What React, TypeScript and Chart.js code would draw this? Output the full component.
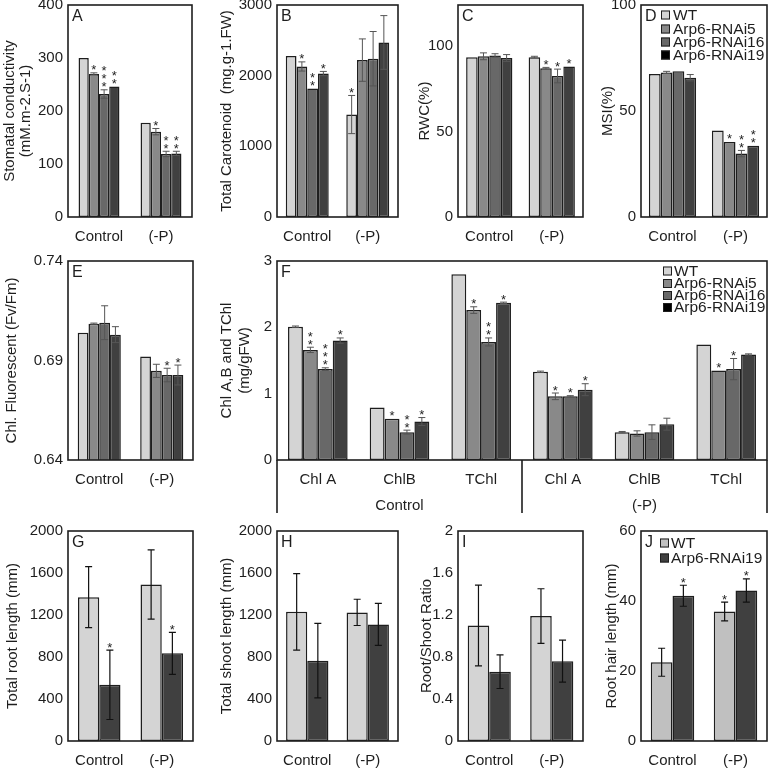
import React, { useEffect, useRef } from "react";
import { Chart, registerables } from "chart.js";
Chart.register(...registerables);

const FONT = '"Liberation Sans", Arial, Helvetica, sans-serif';
const INK = "#1e1e1e";

// ---------- shared categories / series ----------
const conditions = ["Control", "(-P)"];
const lines4 = ["WT", "Arp6-RNAi5", "Arp6-RNAi16", "Arp6-RNAi19"];
const lines2 = ["WT", "Arp6-RNAi19"];
const fill4 = ["#d4d4d4", "#898989", "#686868", "#404040"];
const key4 = ["#d4d4d4", "#898989", "#686868", "#000000"];
const fill2 = ["#d4d4d4", "#404040"];
const fillJ = ["#c0c0c0", "#404040"];

// ---------- A: stomatal conductivity ----------
const aMean = [[300, 178], [270, 161], [232, 119], [246, 120]];
const aErr = [[0, 0], [2, 6], [8, 5], [0, 4]];
const aStar = [[0, 0], [1, 1], [3, 2], [2, 2]];
const aTicks = [0, 100, 200, 300, 400];

// ---------- B: total carotenoid ----------
const bMean = [[2280, 1450], [2130, 2220], [1820, 2240], [2030, 2470]];
const bErr = [[0, 270], [65, 300], [0, 385], [30, 380]];
const bStar = [[0, 1], [1, 0], [2, 0], [1, 0]];
const bTicks = [0, 1000, 2000, 3000];

// ---------- C: RWC ----------
const cMean = [[93.5, 93.5], [94, 87], [94.5, 82.5], [93, 88]];
const cErr = [[0, 0.5], [2, 0.5], [1, 4], [2, 0]];
const cStar = [[0, 0], [0, 1], [0, 1], [0, 1]];
const cTicks = [0, 50, 100];

// ---------- D: MSI ----------
const dMean = [[67.5, 40.8], [68.2, 35.4], [68.7, 29.9], [65.7, 33.6]];
const dErr = [[0, 0], [0.5, 0], [0, 1.5], [1.5, 0]];
const dStar = [[0, 0], [0, 1], [0, 2], [0, 2]];
const dTicks = [0, 50, 100];

// ---------- E: Chl fluorescence ----------
const eMean = [[0.704, 0.692], [0.7085, 0.6848], [0.709, 0.6827], [0.703, 0.6827]];
const eErr = [[0, 0], [0.0003, 0.0033], [0.0085, 0.0034], [0.004, 0.005]];
const eStar = [[0, 0], [0, 0], [0, 1], [0, 1]];
const eTicks = [0.64, 0.69, 0.74];

// ---------- F: Chl A, B, TChl ----------
const fLabels = ["Chl A", "ChlB", "TChl", "Chl A", "ChlB", "TChl"];
const fGroups = ["Control", "(-P)"];
const fMean = [
  [2.01, 0.79, 2.8, 1.33, 0.42, 1.74],
  [1.66, 0.62, 2.26, 0.96, 0.4, 1.35],
  [1.37, 0.42, 1.78, 0.96, 0.42, 1.37],
  [1.8, 0.58, 2.37, 1.06, 0.54, 1.59],
];
const fErr = [
  [0.01, 0, 0, 0.01, 0.01, 0],
  [0.04, 0, 0.05, 0.05, 0.04, 0],
  [0.02, 0.03, 0.06, 0.01, 0.11, 0.16],
  [0.04, 0.06, 0.01, 0.09, 0.09, 0.01],
];
const fStar = [
  [0, 0, 0, 0, 0, 0],
  [2, 1, 1, 1, 0, 1],
  [3, 2, 2, 1, 0, 1],
  [1, 1, 1, 1, 0, 0],
];
const fTicks = [0, 1, 2, 3];

// ---------- G: total root length ----------
const gMean = [[1370, 1490], [535, 835]];
const gErr = [[290, 330], [330, 200]];
const gStar = [[0, 0], [1, 1]];
const ghTicks = [0, 400, 800, 1200, 1600, 2000];

// ---------- H: total shoot length ----------
const hMean = [[1230, 1225], [765, 1110]];
const hErr = [[365, 125], [355, 200]];
const hStar = [[0, 0], [0, 0]];

// ---------- I: root/shoot ratio ----------
const iMean = [[1.1, 1.19], [0.66, 0.76]];
const iErr = [[0.385, 0.26], [0.16, 0.2]];
const iStar = [[0, 0], [0, 0]];
const iTicks = [0, 0.4, 0.8, 1.2, 1.6, 2];

// ---------- J: root hair length ----------
const jMean = [[22.5, 37], [41.5, 43]];
const jErr = [[4, 2.7], [3, 3.3]];
const jStar = [[0, 1], [1, 1]];
const jTicks = [0, 20, 40, 60];

type Spec = {
  letter: string;
  plot: [number, number, number, number];
  canvasLeft: number;
  canvasBottom: number;
  labels: string[];
  names: string[];
  fills: string[];
  means: number[][];
  errs: number[][];
  stars: number[][];
  ticks: number[];
  yMax: number;
  yTitle: string[];
  yTitleX: number[];
  catPct: number;
  errColor: string;
  errWidth: number;
  legend?: { sx: number; tx: number; ys: number[]; fills: string[]; names: string[] };
  multi?: { groups: string[]; groupY: number; lineBottom: number };
};

const specs: Spec[] = [
  {
    letter: "A", plot: [68, 5, 192, 217], canvasLeft: 0, canvasBottom: 250,
    labels: conditions, names: lines4, fills: fill4, means: aMean, errs: aErr, stars: aStar,
    ticks: aTicks, yMax: 400, yTitle: ["Stomatal conductivity", "(mM.m-2.S-1)"], yTitleX: [10, 26],
    catPct: 0.66, errColor: "#555", errWidth: 1,
  },
  {
    letter: "B", plot: [277, 5, 398, 217], canvasLeft: 200, canvasBottom: 250,
    labels: conditions, names: lines4, fills: fill4, means: bMean, errs: bErr, stars: bStar,
    ticks: bTicks, yMax: 3000, yTitle: ["Total Carotenoid  (mg.g-1.FW)"], yTitleX: [227],
    catPct: 0.71, errColor: "#555", errWidth: 1,
  },
  {
    letter: "C", plot: [458, 5, 583, 217], canvasLeft: 400, canvasBottom: 250,
    labels: conditions, names: lines4, fills: fill4, means: cMean, errs: cErr, stars: cStar,
    ticks: cTicks, yMax: 124, yTitle: ["RWC(%)"], yTitleX: [425],
    catPct: 0.74, errColor: "#555", errWidth: 1,
  },
  {
    letter: "D", plot: [641, 5, 767, 217], canvasLeft: 585, canvasBottom: 250,
    labels: conditions, names: lines4, fills: fill4, means: dMean, errs: dErr, stars: dStar,
    ticks: dTicks, yMax: 100, yTitle: ["MSI(%)"], yTitleX: [608],
    catPct: 0.75, errColor: "#555", errWidth: 1,
    legend: { sx: 661, tx: 673, ys: [15, 29, 42, 55], fills: key4, names: lines4 },
  },
  {
    letter: "E", plot: [68, 261, 193, 460], canvasLeft: 0, canvasBottom: 500,
    labels: conditions, names: lines4, fills: fill4, means: eMean, errs: eErr, stars: eStar,
    ticks: eTicks, yMax: 0.74, yTitle: ["Chl. Fluorescent (Fv/Fm)"], yTitleX: [12],
    catPct: 0.69, errColor: "#555", errWidth: 1,
  },
  {
    letter: "F", plot: [277, 261, 767, 460], canvasLeft: 200, canvasBottom: 520,
    labels: fLabels, names: lines4, fills: fill4, means: fMean, errs: fErr, stars: fStar,
    ticks: fTicks, yMax: 3, yTitle: ["Chl A,B and TChl", "(mg/gFW)"], yTitleX: [227, 245],
    catPct: 0.73, errColor: "#555", errWidth: 1,
    legend: { sx: 663, tx: 674, ys: [271, 283.5, 295.5, 307.5], fills: key4, names: lines4 },
    multi: { groups: fGroups, groupY: 506, lineBottom: 513 },
  },
  {
    letter: "G", plot: [68, 531, 193, 741], canvasLeft: 0, canvasBottom: 770,
    labels: conditions, names: lines2, fills: fill2, means: gMean, errs: gErr, stars: gStar,
    ticks: ghTicks, yMax: 2000, yTitle: ["Total root length (mm)"], yTitleX: [13],
    catPct: 0.68, errColor: "#111", errWidth: 1.2,
  },
  {
    letter: "H", plot: [277, 531, 398, 741], canvasLeft: 200, canvasBottom: 770,
    labels: conditions, names: lines2, fills: fill2, means: hMean, errs: hErr, stars: hStar,
    ticks: ghTicks, yMax: 2000, yTitle: ["Total shoot length (mm)"], yTitleX: [227],
    catPct: 0.7, errColor: "#111", errWidth: 1.2,
  },
  {
    letter: "I", plot: [458, 531, 583, 741], canvasLeft: 400, canvasBottom: 770,
    labels: conditions, names: lines2, fills: fill2, means: iMean, errs: iErr, stars: iStar,
    ticks: iTicks, yMax: 2, yTitle: ["Root/Shoot Ratio"], yTitleX: [427],
    catPct: 0.69, errColor: "#111", errWidth: 1.2,
  },
  {
    letter: "J", plot: [641, 531, 767, 741], canvasLeft: 585, canvasBottom: 770,
    labels: conditions, names: lines2, fills: fillJ, means: jMean, errs: jErr, stars: jStar,
    ticks: jTicks, yMax: 60, yTitle: ["Root hair length (mm)"], yTitleX: [612],
    catPct: 0.69, errColor: "#111", errWidth: 1.2,
    legend: { sx: 660, tx: 671, ys: [543, 558], fills: fillJ, names: lines2 },
  },
];

function makeDecor(spec: Spec, cLeft: number, cTop: number) {
  return {
    id: "decor" + spec.letter,
    afterDatasetsDraw(chart: any) {
      const ctx: CanvasRenderingContext2D = chart.ctx;
      const ca = chart.chartArea;
      const ys = chart.scales.y;
      const xs = chart.scales.x;
      ctx.save();
      // error bars and significance stars
      spec.names.forEach((_, di) => {
        const meta = chart.getDatasetMeta(di);
        meta.data.forEach((bar: any, ci: number) => {
          const m = spec.means[di][ci];
          const e = spec.errs[di][ci];
          const x = bar.x;
          const top = ys.getPixelForValue(m + e);
          if (e > 0) {
            const bot = ys.getPixelForValue(m - e);
            ctx.strokeStyle = spec.errColor;
            ctx.lineWidth = spec.errWidth;
            ctx.beginPath();
            ctx.moveTo(x, top);
            ctx.lineTo(x, bot);
            ctx.moveTo(x - 3.5, top);
            ctx.lineTo(x + 3.5, top);
            ctx.moveTo(x - 3.5, bot);
            ctx.lineTo(x + 3.5, bot);
            ctx.stroke();
          }
          const n = spec.stars[di][ci];
          ctx.fillStyle = INK;
          ctx.font = `13px ${FONT}`;
          ctx.textAlign = "center";
          ctx.textBaseline = "alphabetic";
          for (let k = 0; k < n; k++) {
            const c = top - 6 - k * 8;
            ctx.fillText("*", x, c + 7.5);
          }
        });
      });
      // frame
      ctx.strokeStyle = INK;
      ctx.lineWidth = 1.6;
      ctx.strokeRect(ca.left, ca.top, ca.right - ca.left, ca.bottom - ca.top);
      // multi-level category axis
      if (spec.multi) {
        const lb = spec.multi.lineBottom - cTop;
        const mid = (xs.getPixelForValue(2) + xs.getPixelForValue(3)) / 2;
        ctx.beginPath();
        ctx.moveTo(ca.left, ca.bottom);
        ctx.lineTo(ca.left, lb);
        ctx.moveTo(ca.right, ca.bottom);
        ctx.lineTo(ca.right, lb);
        ctx.moveTo(mid, ca.bottom);
        ctx.lineTo(mid, lb);
        ctx.stroke();
        ctx.fillStyle = INK;
        ctx.font = `15px ${FONT}`;
        ctx.textAlign = "center";
        ctx.textBaseline = "middle";
        ctx.fillText(spec.multi.groups[0], xs.getPixelForValue(1), spec.multi.groupY - cTop);
        ctx.fillText(spec.multi.groups[1], xs.getPixelForValue(4), spec.multi.groupY - cTop);
      }
      // panel letter
      ctx.fillStyle = INK;
      ctx.font = `16px ${FONT}`;
      ctx.textAlign = "left";
      ctx.textBaseline = "middle";
      ctx.fillText(spec.letter, ca.left + 4, ca.top + 12);
      // y axis title
      ctx.font = `15px ${FONT}`;
      ctx.textAlign = "center";
      ctx.textBaseline = "middle";
      spec.yTitle.forEach((t, i) => {
        ctx.save();
        ctx.translate(spec.yTitleX[i] - cLeft, (ca.top + ca.bottom) / 2);
        ctx.rotate(-Math.PI / 2);
        ctx.fillText(t, 0, 0);
        ctx.restore();
      });
      // legend
      if (spec.legend) {
        const L = spec.legend;
        ctx.font = `15.5px ${FONT}`;
        ctx.textAlign = "left";
        ctx.textBaseline = "middle";
        L.names.forEach((nm, i) => {
          const y = L.ys[i] - cTop;
          ctx.fillStyle = L.fills[i];
          ctx.fillRect(L.sx - cLeft, y - 4.5, 9, 9);
          ctx.strokeStyle = INK;
          ctx.lineWidth = 1;
          ctx.strokeRect(L.sx - cLeft + 0.5, y - 4, 8, 8);
          ctx.fillStyle = INK;
          ctx.fillText(nm, L.tx - cLeft, y + 0.5);
        });
      }
      ctx.restore();
    },
  };
}

function Panel({ spec }: { spec: Spec }) {
  const ref = useRef<HTMLCanvasElement>(null);
  const [x1, y1, x2, y2] = spec.plot;
  const cLeft = spec.canvasLeft;
  const cTop = y1 - 14;
  const cRight = x2 + 3;
  const cBottom = spec.canvasBottom;
  const w = cRight - cLeft;
  const h = cBottom - cTop;

  useEffect(() => {
    if (!ref.current) return;
    const chart = new Chart(ref.current, {
      type: "bar",
      data: {
        labels: spec.labels,
        datasets: spec.names.map((n, i) => ({
          label: n,
          data: spec.means[i],
          backgroundColor: spec.fills[i],
          borderColor: INK,
          borderWidth: 1.5,
          borderSkipped: false,
          categoryPercentage: spec.catPct,
          barPercentage: 1,
        })),
      },
      options: {
        responsive: false,
        animation: false,
        devicePixelRatio: 1,
        layout: { padding: { top: y1 - cTop, right: cRight - x2, left: 0, bottom: 0 } },
        plugins: { legend: { display: false }, tooltip: { enabled: false } },
        scales: {
          x: {
            grid: { display: false, drawTicks: false },
            border: { display: false },
            ticks: { font: { family: FONT, size: 15 }, color: INK, padding: 11, maxRotation: 0, autoSkip: false },
            afterFit: (s: any) => {
              s.height = cBottom - y2;
            },
          },
          y: {
            min: spec.ticks[0],
            max: spec.yMax,
            grid: { display: false, drawTicks: false },
            border: { display: false },
            ticks: {
              font: { family: FONT, size: 15 },
              color: INK,
              padding: 5,
              callback: (v: any) => String(+Number(v).toFixed(2)),
            },
            afterBuildTicks: (s: any) => {
              s.ticks = spec.ticks.map((v) => ({ value: v }));
            },
            afterFit: (s: any) => {
              s.width = x1 - cLeft;
            },
          },
        },
      } as any,
      plugins: [makeDecor(spec, cLeft, cTop)],
    });
    return () => chart.destroy();
  }, []);

  return (
    <canvas
      ref={ref}
      width={w}
      height={h}
      style={{ position: "absolute", left: cLeft, top: cTop, width: w, height: h }}
    />
  );
}

export default function App() {
  return (
    <div
      style={{
        position: "absolute",
        left: 0,
        top: 0,
        width: 770,
        height: 770,
        background: "#fff",
        overflow: "hidden",
      }}
    >
      {specs.map((s) => (
        <Panel key={s.letter} spec={s} />
      ))}
    </div>
  );
}
